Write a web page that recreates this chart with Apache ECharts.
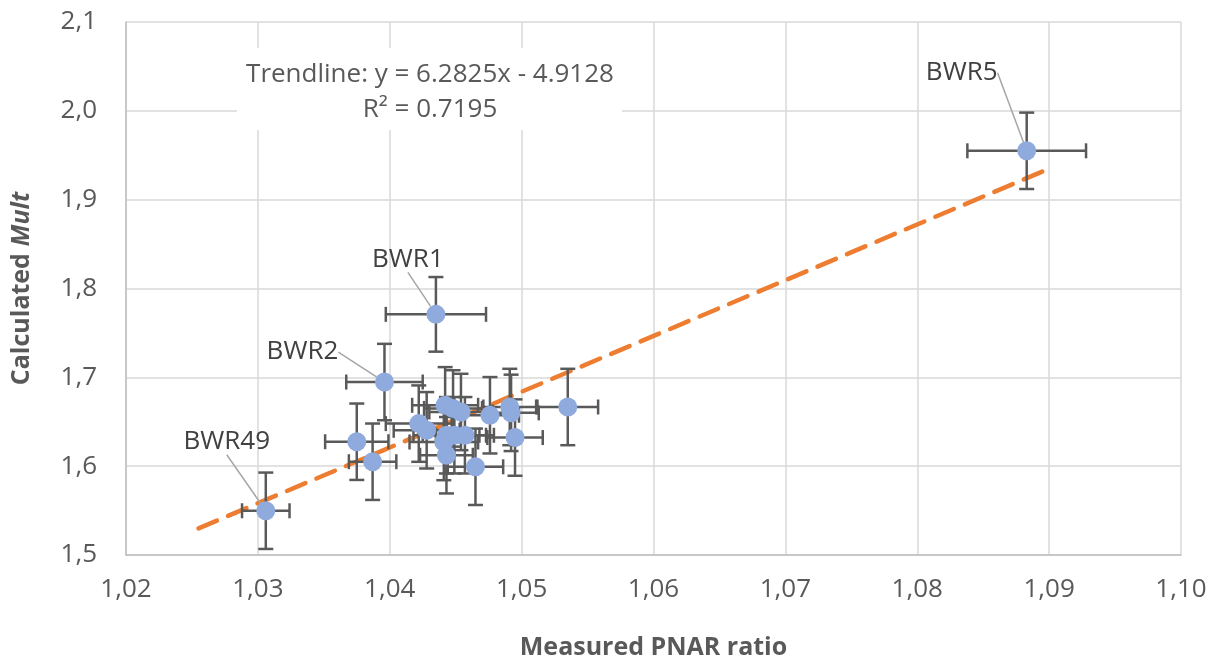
<!DOCTYPE html>
<html>
<head>
<meta charset="utf-8">
<script src="https://cdn.jsdelivr.net/npm/echarts@6/dist/echarts.min.js"></script>
<style>
  html, body { margin: 0; padding: 0; background: #fff; }
  #chart { width: 1223px; height: 663px; }
</style>
</head>
<body>
<div id="chart"></div>
<script>
// measured PNAR ratio (x) and calculated Mult (y), with error bars
const pnar = [1.0306, 1.0375, 1.0387, 1.0396, 1.0435, 1.0422, 1.0428, 1.0442, 1.0448, 1.0454, 1.0476,
  1.0491, 1.0492, 1.0495, 1.0535, 1.0443, 1.0449, 1.0457, 1.0441, 1.0443, 1.0465, 1.0883]
const mult = [1.5498, 1.6275, 1.6050, 1.6947, 1.7709, 1.6479, 1.6404, 1.6685, 1.6650, 1.6610, 1.6573,
  1.6666, 1.6600, 1.6322, 1.6666, 1.6348, 1.6348, 1.6348, 1.6272, 1.6123, 1.5993, 1.9550]
const pnarErr = [0.0018, 0.0024, 0.0018, 0.0029, 0.0038, 0.0025, 0.0025, 0.0025, 0.0022, 0.0024, 0.0022,
  0.0020, 0.0021, 0.0021, 0.0023, 0.0025, 0.0024, 0.0022, 0.0026, 0.0020, 0.0021, 0.0045]
const multErr = [0.043, 0.043, 0.043, 0.043, 0.042, 0.043, 0.043, 0.043, 0.043, 0.043, 0.043,
  0.043, 0.043, 0.043, 0.043, 0.043, 0.043, 0.043, 0.043, 0.043, 0.043, 0.043]
const names = ['BWR49', '', '', 'BWR2', 'BWR1', '', '', '', '', '', '',
  '', '', '', '', '', '', '', '', '', '', 'BWR5']
// trendline end points as drawn
const trendX = [1.0255, 1.0901]
const trendY = [1.5300, 1.9355]

// label offsets (px) from the marker
const labelShift = {
  BWR49: [-39, -69],
  BWR2: [-82, -30],
  BWR1: [-28, -55],
  BWR5: [-65, -78]
}

const textColor = '#595959'
const font = 'Open Sans'
const chart = echarts.init(document.getElementById('chart'))

const points = pnar.map((x, i) => ({
  value: [x, mult[i]],
  name: names[i],
  label: { show: names[i] !== '' }
}))
const errData = pnar.map((x, i) => [x, mult[i], pnarErr[i], multErr[i]])

function renderErr(params, api) {
  const x = api.value(0), y = api.value(1)
  const ex = api.value(2), ey = api.value(3)
  const l = api.coord([x - ex, y]), r = api.coord([x + ex, y])
  const t = api.coord([x, y + ey]), b = api.coord([x, y - ey])
  const cap = 7.5
  const style = { stroke: '#595959', lineWidth: 2.5 }
  const seg = (x1, y1, x2, y2) => ({ type: 'line', shape: { x1, y1, x2, y2 }, style })
  return {
    type: 'group',
    children: [
      seg(l[0], l[1], r[0], r[1]),
      seg(l[0], l[1] - cap, l[0], l[1] + cap),
      seg(r[0], r[1] - cap, r[0], r[1] + cap),
      seg(t[0], t[1], b[0], b[1]),
      seg(t[0] - cap, t[1], t[0] + cap, t[1]),
      seg(b[0] - cap, b[1], b[0] + cap, b[1])
    ]
  }
}

chart.setOption({
  animation: false,
  grid: { left: 126, right: 42, top: 22, bottom: 108, outerBoundsMode: 'none' },
  xAxis: {
    type: 'value',
    min: 1.02,
    max: 1.10,
    interval: 0.01,
    name: 'Measured PNAR ratio',
    nameLocation: 'middle',
    nameGap: 80,
    nameTextStyle: { color: textColor, fontSize: 25, fontWeight: 'bold', fontFamily: font },
    axisLine: { lineStyle: { color: '#bfbfbf', width: 1.5 } },
    axisTick: { show: false },
    axisLabel: {
      color: textColor,
      fontSize: 26,
      fontFamily: font,
      margin: 22,
      formatter: v => v.toFixed(2).replace('.', ',')
    },
    splitLine: { lineStyle: { color: '#d9d9d9', width: 1.5 } }
  },
  yAxis: {
    type: 'value',
    min: 1.5,
    max: 2.1,
    interval: 0.1,
    name: '{a|Calculated }{b|Mult}',
    nameLocation: 'middle',
    nameGap: 92,
    nameTextStyle: {
      rich: {
        a: { color: textColor, fontSize: 25, fontWeight: 'bold', fontFamily: font },
        b: { color: textColor, fontSize: 25, fontWeight: 'bold', fontStyle: 'italic', fontFamily: font }
      }
    },
    axisLine: { show: true, lineStyle: { color: '#bfbfbf', width: 1.5 } },
    axisTick: { show: false },
    axisLabel: {
      color: textColor,
      fontSize: 26,
      fontFamily: font,
      margin: 29,
      formatter: v => v.toFixed(1).replace('.', ',')
    },
    splitLine: { lineStyle: { color: '#d9d9d9', width: 1.5 } }
  },
  graphic: [
    {
      type: 'rect',
      shape: { x: 237, y: 48, width: 385, height: 82 },
      style: { fill: '#fff' },
      z: 5
    },
    {
      type: 'text',
      x: 430,
      y: 75,
      z: 6,
      style: {
        text: 'Trendline: y = 6.2825x - 4.9128',
        align: 'center',
        verticalAlign: 'middle',
        fill: textColor,
        font: '26px "Open Sans"'
      }
    },
    {
      type: 'text',
      x: 430,
      y: 110,
      z: 6,
      style: {
        text: 'R² = 0.7195',
        align: 'center',
        verticalAlign: 'middle',
        fill: textColor,
        font: '26px "Open Sans"'
      }
    }
  ],
  series: [
    {
      type: 'line',
      data: trendX.map((x, i) => [x, trendY[i]]),
      symbol: 'none',
      lineStyle: { color: '#ed7d31', width: 4.5, type: [20, 12], cap: 'round' },
      z: 2
    },
    {
      type: 'custom',
      renderItem: renderErr,
      data: errData,
      z: 3
    },
    {
      type: 'scatter',
      data: points,
      symbolSize: 19,
      itemStyle: { color: '#8faadc', opacity: 1 },
      z: 4,
      label: {
        position: 'inside',
        formatter: '{b}',
        color: '#404040',
        fontSize: 26,
        fontFamily: font
      },
      labelLine: { show: true, lineStyle: { color: '#a6a6a6', width: 1.5 } },
      labelLayout: params => {
        const s = labelShift[names[params.dataIndex]] || [0, 0]
        return { dx: s[0], dy: s[1] }
      }
    }
  ]
})
</script>
</body>
</html>
